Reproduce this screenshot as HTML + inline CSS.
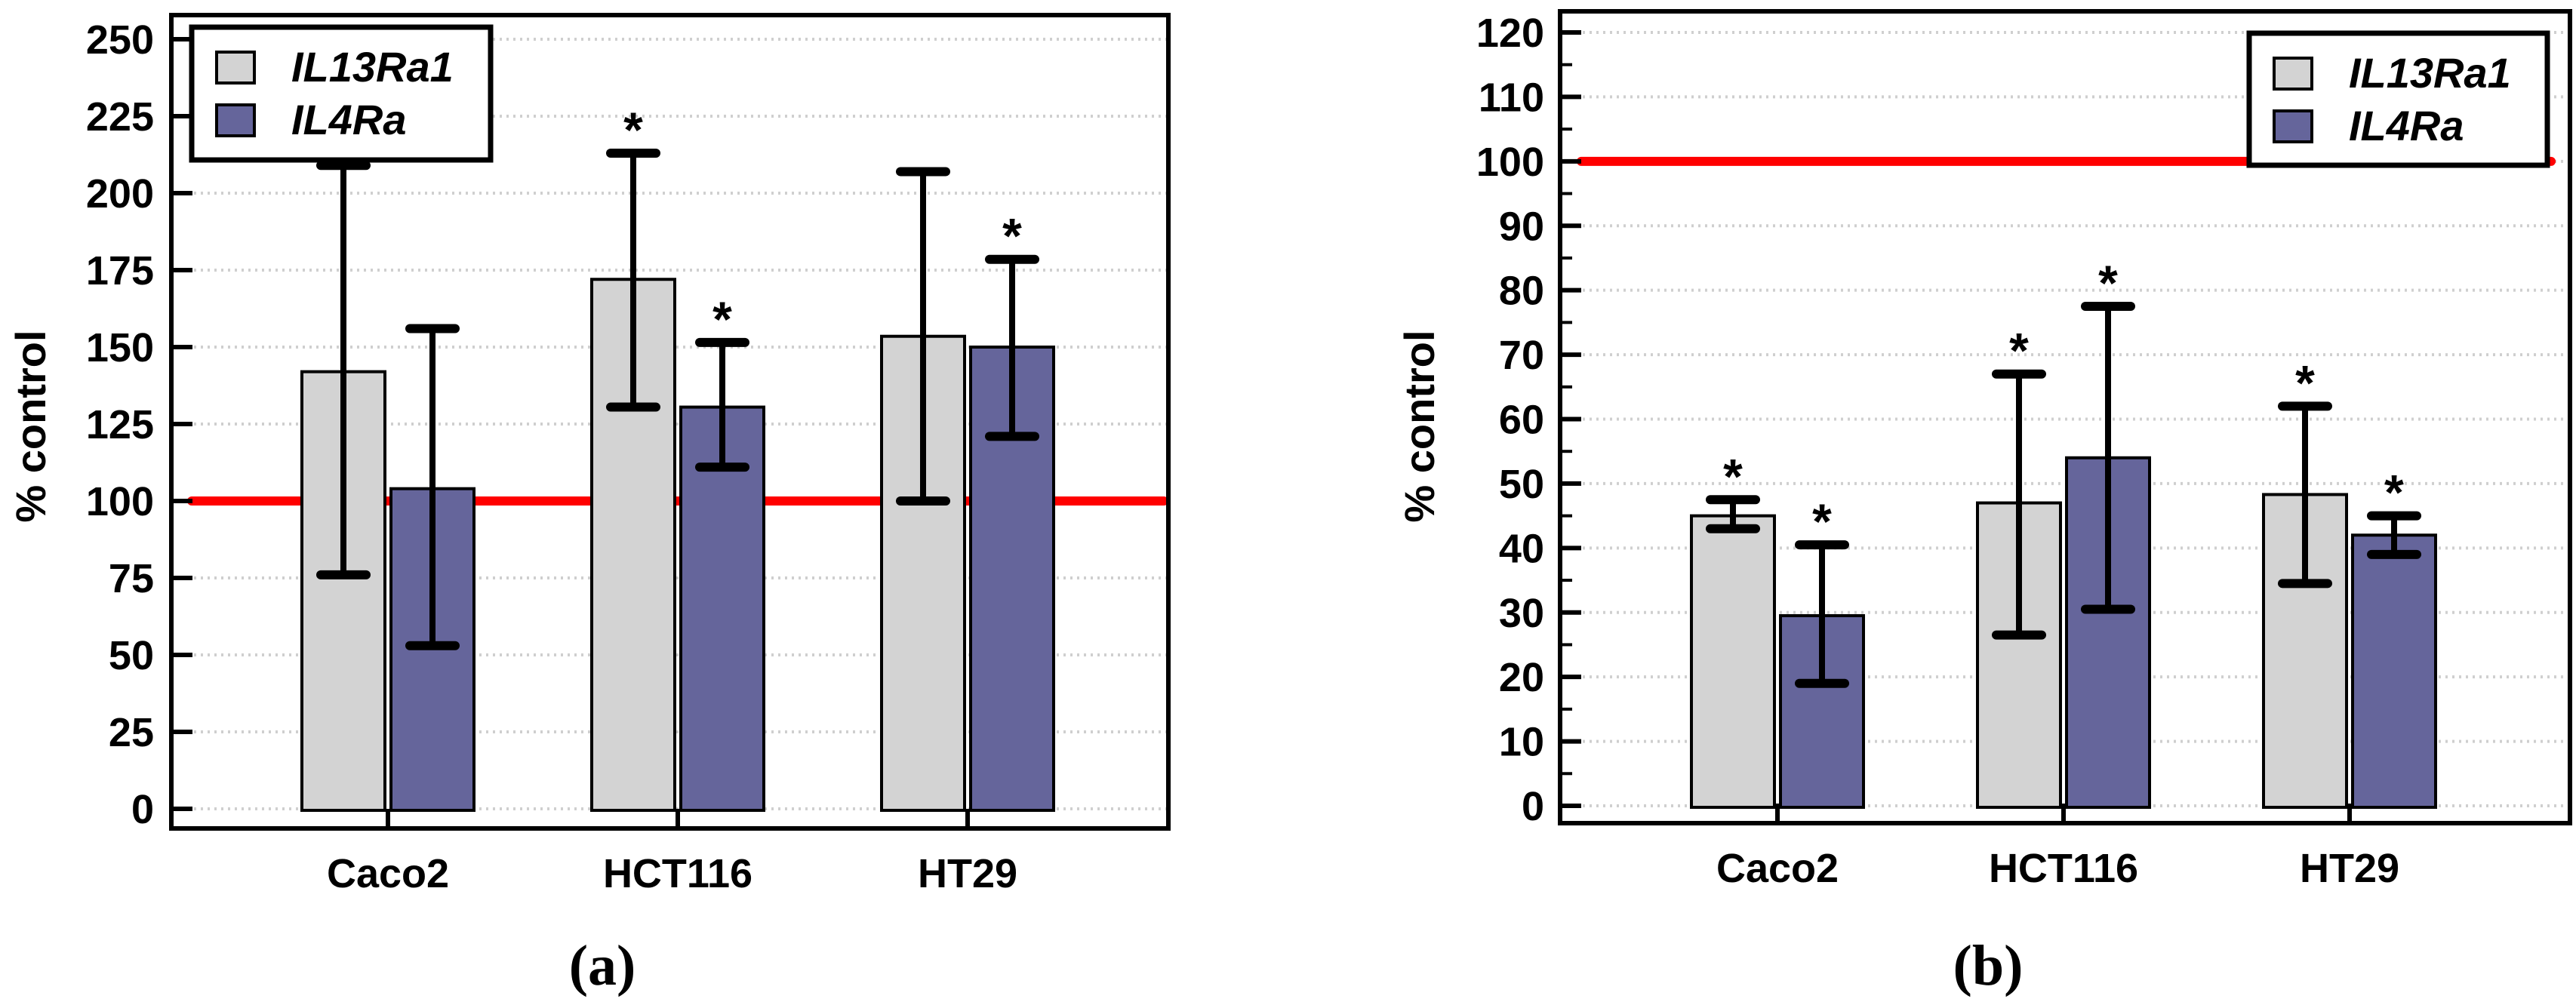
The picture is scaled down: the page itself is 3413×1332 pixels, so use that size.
<!DOCTYPE html>
<html><head><meta charset="utf-8"><style>
html,body{margin:0;padding:0;background:#fff}
svg{display:block}
text{font-family:"Liberation Sans",Arial,sans-serif;font-weight:bold}
</style></head><body>
<svg id="fig" width="3413" height="1332" viewBox="0 0 3413 1332" xmlns="http://www.w3.org/2000/svg"></svg>
<script>
const categories = ["Caco2","HCT116","HT29"];
const seriesNames = ["IL13Ra1","IL4Ra"];
const aIL13 = [142,172,153.5];
const aIL13Lo = [76,130.5,100];
const aIL13Hi = [209,213,207];
const aIL4 = [104,130.5,150];
const aIL4Lo = [53,111,121];
const aIL4Hi = [156,151.5,178.5];
const aStars13 = [false,true,false];
const aStars4 = [false,true,true];
const aTicks = [0,25,50,75,100,125,150,175,200,225,250];
const bIL13 = [45,47,48.3];
const bIL13Lo = [43,26.5,34.5];
const bIL13Hi = [47.5,67,62];
const bIL4 = [29.5,54,42];
const bIL4Lo = [19,30.5,39];
const bIL4Hi = [40.5,77.5,45];
const bStars13 = [true,true,true];
const bStars4 = [true,true,true];
const bTicks = [0,10,20,30,40,50,60,70,80,90,100,110,120];
const controlValue = 100;

const NS="http://www.w3.org/2000/svg";
const svg=document.getElementById('fig');
function mk(tag,attrs,parent){const e=document.createElementNS(NS,tag);for(const k in attrs)e.setAttribute(k,attrs[k]);(parent||svg).appendChild(e);return e;}

function panel(cfg){
  const g=mk('g',{});
  
  
  const y=v=>cfg.y0-(v-cfg.ymin)/(cfg.ymax-cfg.ymin)*(cfg.y0-cfg.yTop);
  const cx=i=>cfg.cat0+i*cfg.catStep;
  cfg.ticks.forEach(t=>{
    const l=mk('line',{x1:cfg.left+30,x2:cfg.right,y1:y(t),y2:y(t),stroke:'#cfcfcf','stroke-width':4,'stroke-dasharray':'3 6'},g);
    
    
  });
  const rl=mk('line',{x1:cfg.redX1,x2:cfg.redX2,y1:y(controlValue),y2:y(controlValue),stroke:'#ff0000','stroke-width':12,'stroke-linecap':'round'},g);
  
  
  const sets=[[cfg.v1,cfg.lo1,cfg.hi1,cfg.st1,'#d3d3d3',-1],[cfg.v2,cfg.lo2,cfg.hi2,cfg.st2,'#65659b',1]];
  sets.forEach((s,si)=>{
    s[0].forEach((v,i)=>{
      const bx= s[5]<0 ? cx(i)-4-110 : cx(i)+4;
      const r=mk('rect',{x:bx,y:y(v),width:110,height:y(0)-y(v)+2,fill:s[4],stroke:'#000','stroke-width':4},g);
      
      
    });
  });
  sets.forEach((s,si)=>{
    s[0].forEach((v,i)=>{
      const mx=(s[5]<0 ? cx(i)-59 : cx(i)+59);
      const e=mk('g',{},g);
      
      
      mk('line',{x1:mx,x2:mx,y1:y(s[1][i]),y2:y(s[2][i]),stroke:'#000','stroke-width':8},e);
      mk('line',{x1:mx-30,x2:mx+30,y1:y(s[1][i]),y2:y(s[1][i]),stroke:'#000','stroke-width':12,'stroke-linecap':'round'},e);
      mk('line',{x1:mx-30,x2:mx+30,y1:y(s[2][i]),y2:y(s[2][i]),stroke:'#000','stroke-width':12,'stroke-linecap':'round'},e);
      if(s[3][i]){
        const st=mk('text',{x:mx,y:y(s[2][i])-8,'text-anchor':'middle','font-size':66},g);
        st.textContent='*';
        
        
      }
    });
  });
  cfg.ticks.forEach(t=>{
    mk('line',{x1:cfg.left,x2:cfg.left+28,y1:y(t),y2:y(t),stroke:'#000','stroke-width':6},g);
    const tl=mk('text',{x:cfg.labelRight,y:y(t)+19,'text-anchor':'end','font-size':54},g);
    tl.textContent=t;
    
    
  });
  if(cfg.minor){
    cfg.ticks.slice(0,-1).forEach((t,k)=>{
      const m=(t+cfg.ticks[k+1])/2;
      mk('line',{x1:cfg.left,x2:cfg.left+16,y1:y(m),y2:y(m),stroke:'#000','stroke-width':4},g);
    });
  }
  categories.forEach((c,i)=>{
    mk('line',{x1:cx(i),x2:cx(i),y1:cfg.bottom,y2:cfg.bottom-26,stroke:'#000','stroke-width':6},g);
    const t=mk('text',{x:cx(i),y:cfg.bottom+78,'text-anchor':'middle','font-size':54},g);
    t.textContent=c;
    
    
  });
  const fr=mk('rect',{x:cfg.left,y:cfg.top,width:cfg.right-cfg.left,height:cfg.bottom-cfg.top,fill:'none',stroke:'#000','stroke-width':6},g);
  
  
  const yt=mk('text',{x:0,y:0,'text-anchor':'middle','font-size':56,transform:`translate(${cfg.ytX},${cfg.ytY}) rotate(-90)`},g);
  yt.textContent='% control';
  
  
  const lg=mk('g',{},g);
  
  
  mk('rect',{x:cfg.lgX,y:cfg.lgY,width:cfg.lgW,height:cfg.lgH,fill:'#fff',stroke:'#000','stroke-width':7},lg);
  [['#d3d3d3',seriesNames[0]],['#65659b',seriesNames[1]]].forEach((it,k)=>{
    const sy=cfg.lgY+33+k*70;
    const sw=mk('rect',{x:cfg.lgX+33,y:sy,width:50,height:41,fill:it[0],stroke:'#000','stroke-width':4},lg);
    
    
    const tx=mk('text',{x:cfg.lgX+132,y:sy+39,'font-size':56,'font-style':'italic'},lg);
    tx.textContent=it[1];
    
    
  });
  const pl=mk('text',{x:cfg.plX,y:1305,'text-anchor':'middle','font-size':76,style:'font-family:"Liberation Serif",serif;font-weight:bold'},g);
  pl.textContent=cfg.plabel;
  
  
}

panel({name:'panel-a',left:227,right:1548,top:20,bottom:1098,y0:1072,yTop:52,ymin:0,ymax:250,
  ticks:aTicks,minor:false,cat0:514,catStep:384,redX1:254,redX2:1542,
  v1:aIL13,lo1:aIL13Lo,hi1:aIL13Hi,st1:aStars13,v2:aIL4,lo2:aIL4Lo,hi2:aIL4Hi,st2:aStars4,
  labelRight:204,ytX:60,ytY:565,lgX:254,lgY:36,lgW:396,lgH:176,plX:798,plabel:'(a)'});
panel({name:'panel-b',left:2067,right:3405,top:15,bottom:1091,y0:1068,yTop:43,ymin:0,ymax:120,
  ticks:bTicks,minor:true,cat0:2355,catStep:379,redX1:2095,redX2:3380,
  v1:bIL13,lo1:bIL13Lo,hi1:bIL13Hi,st1:bStars13,v2:bIL4,lo2:bIL4Lo,hi2:bIL4Hi,st2:bStars4,
  labelRight:2046,ytX:1900,ytY:565,lgX:2980,lgY:44,lgW:395,lgH:175,plX:2634,plabel:'(b)'});
</script>
</body></html>
